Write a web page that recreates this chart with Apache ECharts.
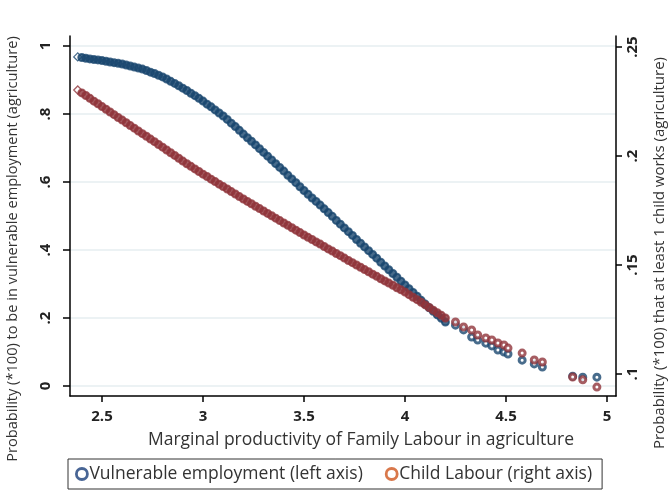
<!DOCTYPE html>
<html>
<head>
<meta charset="utf-8">
<script src="https://cdn.jsdelivr.net/npm/echarts@6/dist/echarts.min.js"></script>
<style>html,body{margin:0;padding:0;background:#fff;}#c{width:672px;height:497px;}</style>
</head>
<body>
<div id="c"></div>
<script>
// Marginal productivity of family labour (x)
var productivity = [
 2.38,2.40,2.42,2.44,2.46,2.48,2.50,2.52,2.54,2.56,2.58,2.60,2.62,2.64,2.66,2.68,2.70,2.72,2.74,2.76,2.78,
 2.80,2.82,2.84,2.86,2.88,2.90,2.92,2.94,2.96,2.98,3.00,3.02,3.04,3.06,3.08,3.10,3.12,3.14,3.16,3.18,
 3.20,3.22,3.24,3.26,3.28,3.30,3.32,3.34,3.36,3.38,3.40,3.42,3.44,3.46,3.48,3.50,3.52,3.54,3.56,3.58,
 3.60,3.62,3.64,3.66,3.68,3.70,3.72,3.74,3.76,3.78,3.80,3.82,3.84,3.86,3.88,3.90,3.92,3.94,3.96,3.98,
 4.00,4.02,4.04,4.06,4.08,4.10,4.12,4.14,4.16,4.18,4.20,
 4.25,4.29,4.33,4.36,4.40,4.43,4.46,4.49,4.51,4.58,4.64,4.68,4.83,4.88,4.95
];
// Probability to be in vulnerable employment (left axis)
var vulnerable = [
 0.968,0.966,0.964,0.962,0.960,0.959,0.957,0.955,0.953,0.951,0.949,0.947,0.944,0.941,0.938,0.935,0.932,0.928,0.923,0.919,0.914,
 0.909,0.903,0.896,0.890,0.883,0.876,0.869,0.861,0.854,0.846,0.838,0.829,0.821,0.812,0.803,0.794,0.784,0.773,0.763,0.752,
 0.741,0.730,0.720,0.709,0.698,0.687,0.676,0.665,0.654,0.643,0.632,0.620,0.609,0.598,0.586,0.575,0.564,0.553,0.543,0.532,
 0.521,0.510,0.499,0.487,0.476,0.465,0.454,0.443,0.431,0.420,0.409,0.398,0.387,0.376,0.364,0.353,0.342,0.331,0.320,0.308,
 0.297,0.286,0.275,0.264,0.252,0.241,0.230,0.220,0.209,0.199,0.188,
 0.179,0.165,0.144,0.135,0.126,0.118,0.106,0.100,0.094,0.076,0.065,0.056,0.029,0.026,0.026
];
// Probability that at least 1 child works (right axis)
var childLabour = [
 0.2303,0.2290,0.2278,0.2265,0.2252,0.2240,0.2227,0.2215,0.2202,0.2190,0.2177,0.2165,0.2153,0.2140,0.2128,0.2115,0.2103,0.2091,0.2078,0.2066,0.2053,
 0.2041,0.2028,0.2015,0.2003,0.1990,0.1977,0.1965,0.1953,0.1941,0.1929,0.1917,0.1906,0.1894,0.1883,0.1871,0.1860,0.1849,0.1837,0.1826,0.1814,
 0.1803,0.1792,0.1781,0.1770,0.1759,0.1748,0.1737,0.1726,0.1715,0.1704,0.1693,0.1682,0.1671,0.1660,0.1649,0.1638,0.1627,0.1617,0.1606,0.1596,
 0.1585,0.1574,0.1564,0.1553,0.1543,0.1532,0.1521,0.1511,0.1500,0.1490,0.1479,0.1469,0.1458,0.1448,0.1437,0.1427,0.1417,0.1407,0.1396,0.1386,
 0.1376,0.1364,0.1352,0.1341,0.1329,0.1317,0.1305,0.1293,0.1281,0.1269,0.1257,
 0.1239,0.1216,0.1202,0.1179,0.1165,0.1156,0.1142,0.1133,0.1119,0.1096,0.1064,0.1055,0.0986,0.0973,0.0940
];
var xTicks = [2.5, 3, 3.5, 4, 4.5, 5];
var leftTicks = [0, 0.2, 0.4, 0.6, 0.8, 1];
var rightTicks = [0.1, 0.15, 0.2, 0.25];
var seriesNames = ['Vulnerable employment (left axis)', 'Child Labour (right axis)'];
var xTitle = 'Marginal productivity of Family Labour in agriculture';
var leftTitle = 'Probability (*100) to be in vulnerable employment (agriculture)';
var rightTitle = 'Probability (*100) that at least 1 child works (agriculture)';

function fmt(v){ var s = String(+v.toFixed(3)); return s.replace(/^0\./, '.'); }
function pts(ys){
  return productivity.map(function(x,i){
    var item = {value:[x, ys[i]]};
    if(i===0){
      item.symbol='diamond'; item.symbolSize=8; item.itemStyle={color:'#fff', borderWidth:1.3};
    } else if (x > 4.21) {
      item.symbolSize=6; item.itemStyle={color:'#fff', borderWidth:3};
    }
    return item;
  });
}
var blue = '#1a476f', red = '#90353b';
var font = 'Open Sans';
var chart = echarts.init(document.getElementById('c'), null, {renderer:'canvas'});
chart.setOption({
  animation:false,
  backgroundColor:'#fff',
  grid:{left:70, right:56, top:36, bottom:101},
  legend:{
    left:68, top:459,
    padding:[6, 10, 6, 7],
    borderColor:'#333', borderWidth:1,
    itemWidth:11, itemHeight:11, itemGap:22,
    icon:'circle',
    textStyle:{fontFamily:font, fontSize:17.5, color:'#333', padding:[0,0,0,-3]},
    data:[
      {name:seriesNames[0], itemStyle:{color:'#fff', borderColor:'#1a3f7a', borderWidth:2.8}},
      {name:seriesNames[1], itemStyle:{color:'#fff', borderColor:'#d0561e', borderWidth:2.8}}
    ]
  },
  graphic:[
    {type:'text', x:13, y:249, rotation:Math.PI/2, silent:true,
     style:{text:leftTitle, fontFamily:font, fontSize:14.6, fill:'#333', align:'center', verticalAlign:'middle'}},
    {type:'text', x:660, y:253, rotation:Math.PI/2, silent:true,
     style:{text:rightTitle, fontFamily:font, fontSize:15, fill:'#333', align:'center', verticalAlign:'middle'}}
  ],
  xAxis:{
    type:'value', min:2.3416, max:5.0446,
    name:xTitle,
    nameLocation:'middle', nameGap:35,
    nameTextStyle:{fontFamily:font, fontSize:17.5, color:'#333', padding:[0,0,0,36]},
    axisLine:{onZero:false, lineStyle:{color:'#000', width:1.5}},
    axisTick:{customValues:xTicks, length:6, lineStyle:{color:'#000', width:1.5}},
    axisLabel:{customValues:xTicks, margin:13, formatter:fmt, fontFamily:font, fontSize:15, fontWeight:'bold', color:'#222'},
    splitLine:{show:false}
  },
  yAxis:[{
    type:'value', min:-0.0294, max:1.0294, position:'left',
    axisLine:{show:true, onZero:false, lineStyle:{color:'#000', width:1.5}},
    axisTick:{show:true, customValues:leftTicks, length:7, lineStyle:{color:'#000', width:1.5}},
    axisLabel:{customValues:leftTicks, rotate:90, margin:17, formatter:fmt, fontFamily:font, fontSize:15, fontWeight:'bold', color:'#222'},
    splitLine:{show:true, lineStyle:{color:'#e6eef0', width:1.5}}
  },{
    type:'value', min:0.0899, max:0.2551, position:'right',
    axisLine:{show:true, onZero:false, lineStyle:{color:'#000', width:1.5}},
    axisTick:{show:true, customValues:rightTicks, length:6, lineStyle:{color:'#000', width:1.5}},
    axisLabel:{customValues:rightTicks, rotate:90, margin:9, formatter:fmt, fontFamily:font, fontSize:15, fontWeight:'bold', color:'#222'},
    splitLine:{show:false}
  }],
  series:[{
    name:seriesNames[0], type:'scatter', yAxisIndex:0,
    symbol:'circle', symbolSize:7,
    itemStyle:{color:blue, borderColor:blue, borderWidth:2},
    data:pts(vulnerable)
  },{
    name:seriesNames[1], type:'scatter', yAxisIndex:1,
    symbol:'circle', symbolSize:7,
    itemStyle:{color:red, borderColor:red, borderWidth:2},
    data:pts(childLabour)
  }]
});
</script>
</body>
</html>
